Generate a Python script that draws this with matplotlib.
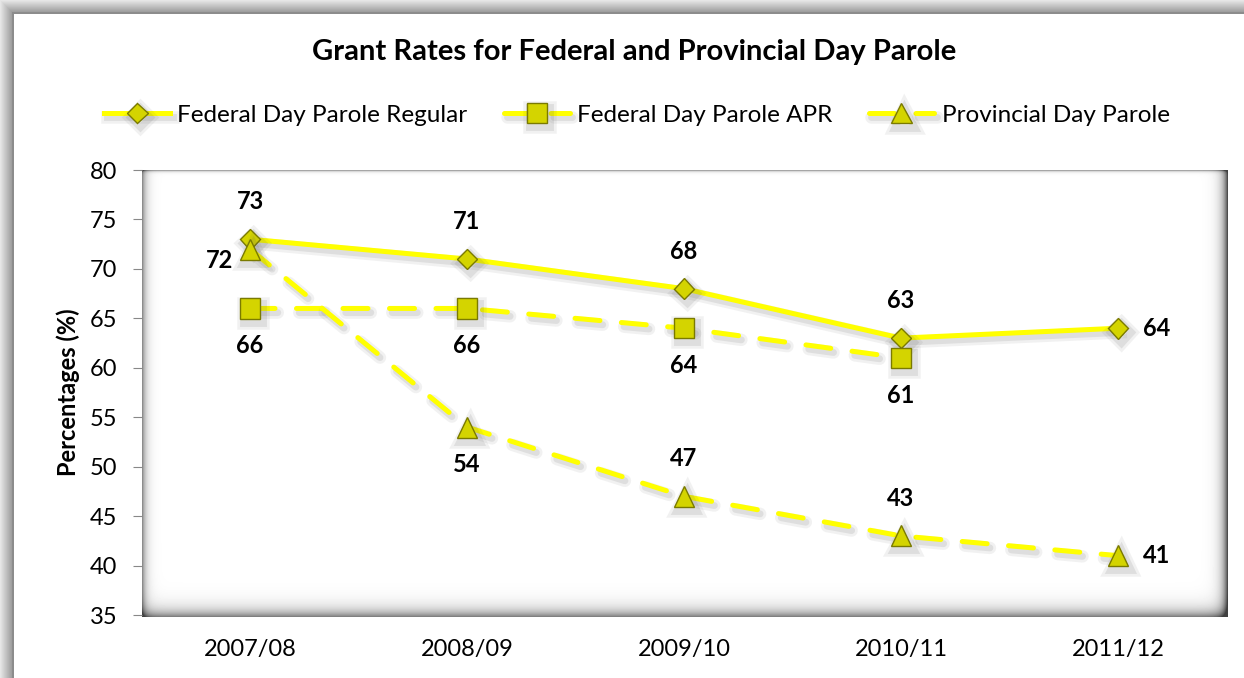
import numpy as np
import matplotlib
matplotlib.use("Agg")
import matplotlib.pyplot as plt
import matplotlib.patheffects as pe

# data
years = ["2007/08", "2008/09", "2009/10", "2010/11", "2011/12"]
fed_regular = [73, 71, 68, 63, 64]
fed_apr = [66, 66, 64, 61]
prov = [72, 54, 47, 43, 41]

# where each data label sits relative to its point
pos_regular = ["above", "above", "above", "above", "right"]
pos_apr = ["below", "below", "below", "below"]
pos_prov = ["left", "below", "above", "above", "right"]

plt.rcParams["font.family"] = ["Lato", "DejaVu Sans"]

W, H = 1244, 678
fig = plt.figure(figsize=(W / 100, H / 100), dpi=100)

# background: outer grey frame + bevelled plot area
bg = fig.add_axes([0, 0, 1, 1], zorder=0)
bg.axis("off")
yy, xx = np.mgrid[0:H, 0:W].astype(float)
img = np.ones((H, W))
d = np.minimum(xx, yy)
frame = d < 12
img[frame] = (0.9 - 0.3 * d / 12)[frame]
img[(d >= 12) & (d < 13.5)] = 0.55

x0, x1, y0, y1 = 142, 1227, 170, 616
inside = (xx >= x0) & (xx <= x1) & (yy >= y0) & (yy <= y1)
shade = (0.45 * np.exp(-(xx - x0) / 4) + 0.5 * np.exp(-(y1 - yy) / 7)
         + 0.7 * np.exp(-(x1 - xx) / 5) + 0.35 * np.exp(-(yy - y0) / 1.2))
val = np.clip(1 - shade, 0.25, 1)
img[inside] = val[inside]
bg.imshow(img, cmap="gray", vmin=0, vmax=1, extent=[0, 1, 0, 1],
          aspect="auto", interpolation="bilinear")
bg.set_xlim(0, 1)
bg.set_ylim(0, 1)

ax = fig.add_axes([141.5 / W, 1 - 615 / H, 1085 / W, 445 / H], zorder=1)
ax.patch.set_alpha(0)
for s in ax.spines.values():
    s.set_visible(False)

# soft-ish drop shadow: a few offset copies, wider and fainter
shadow = [pe.SimpleLineShadow(offset=(2, -3), shadow_color="0.35", alpha=0.08, linewidth=9),
          pe.SimpleLineShadow(offset=(2, -3), shadow_color="0.35", alpha=0.12, linewidth=5),
          pe.Normal()]
mface, medge = "#D4D400", "#7A7A00"

x = np.arange(len(years))
l1, = ax.plot(x, fed_regular, color="#FFFF00", lw=3.6, marker="D", ms=10.5,
              mfc=mface, mec=medge, mew=1, path_effects=shadow, zorder=3,
              label="Federal Day Parole Regular")
l2, = ax.plot(x[:len(fed_apr)], fed_apr, color="#FFFF00", lw=3.6, marker="s",
              ms=14.5, mfc=mface, mec=medge, mew=1, dashes=(5, 4.3),
              dash_capstyle="round", path_effects=shadow, zorder=3,
              label="Federal Day Parole APR")
l3, = ax.plot(x, prov, color="#FFFF00", lw=3.6, marker="^", ms=15,
              mfc=mface, mec=medge, mew=1, dashes=(5, 4.3),
              dash_capstyle="round", path_effects=shadow, zorder=3,
              label="Provincial Day Parole")

offsets = {"above": (0, 27), "below": (0, -27), "left": (-22, -8), "right": (28, 0)}
for vals, poss in [(fed_regular, pos_regular), (fed_apr, pos_apr), (prov, pos_prov)]:
    for i, (v, p) in enumerate(zip(vals, poss)):
        ax.annotate(str(v), (i, v), xytext=offsets[p], textcoords="offset points",
                    ha="center", va="center", fontsize=17, fontweight="bold",
                    zorder=4)

ax.set_xlim(-0.5, len(years) - 0.5)
ax.set_ylim(35, 80)
ax.set_yticks(range(35, 81, 5))
ax.set_xticks(x)
ax.set_xticklabels(years)
ax.tick_params(axis="y", length=6.5, color="#888888", pad=11, labelsize=17)
ax.tick_params(axis="x", length=0, pad=17, labelsize=17)

fig.text(68 / W, 1 - 392 / H, "Percentages (%)", rotation=90, ha="center",
         va="center", fontsize=17, fontweight="bold")
fig.text(634 / W, 1 - 52 / H, "Grant Rates for Federal and Provincial Day Parole",
         ha="center", va="center", fontsize=21, fontweight="bold")

fig.legend(handles=[l1, l2, l3], loc="center", bbox_to_anchor=(637 / W, 1 - 115 / H),
           ncol=3, frameon=False, fontsize=17.5, handlelength=2.7,
           handletextpad=0.3, columnspacing=1.5, numpoints=1)

fig.savefig("out.png", dpi=100)
